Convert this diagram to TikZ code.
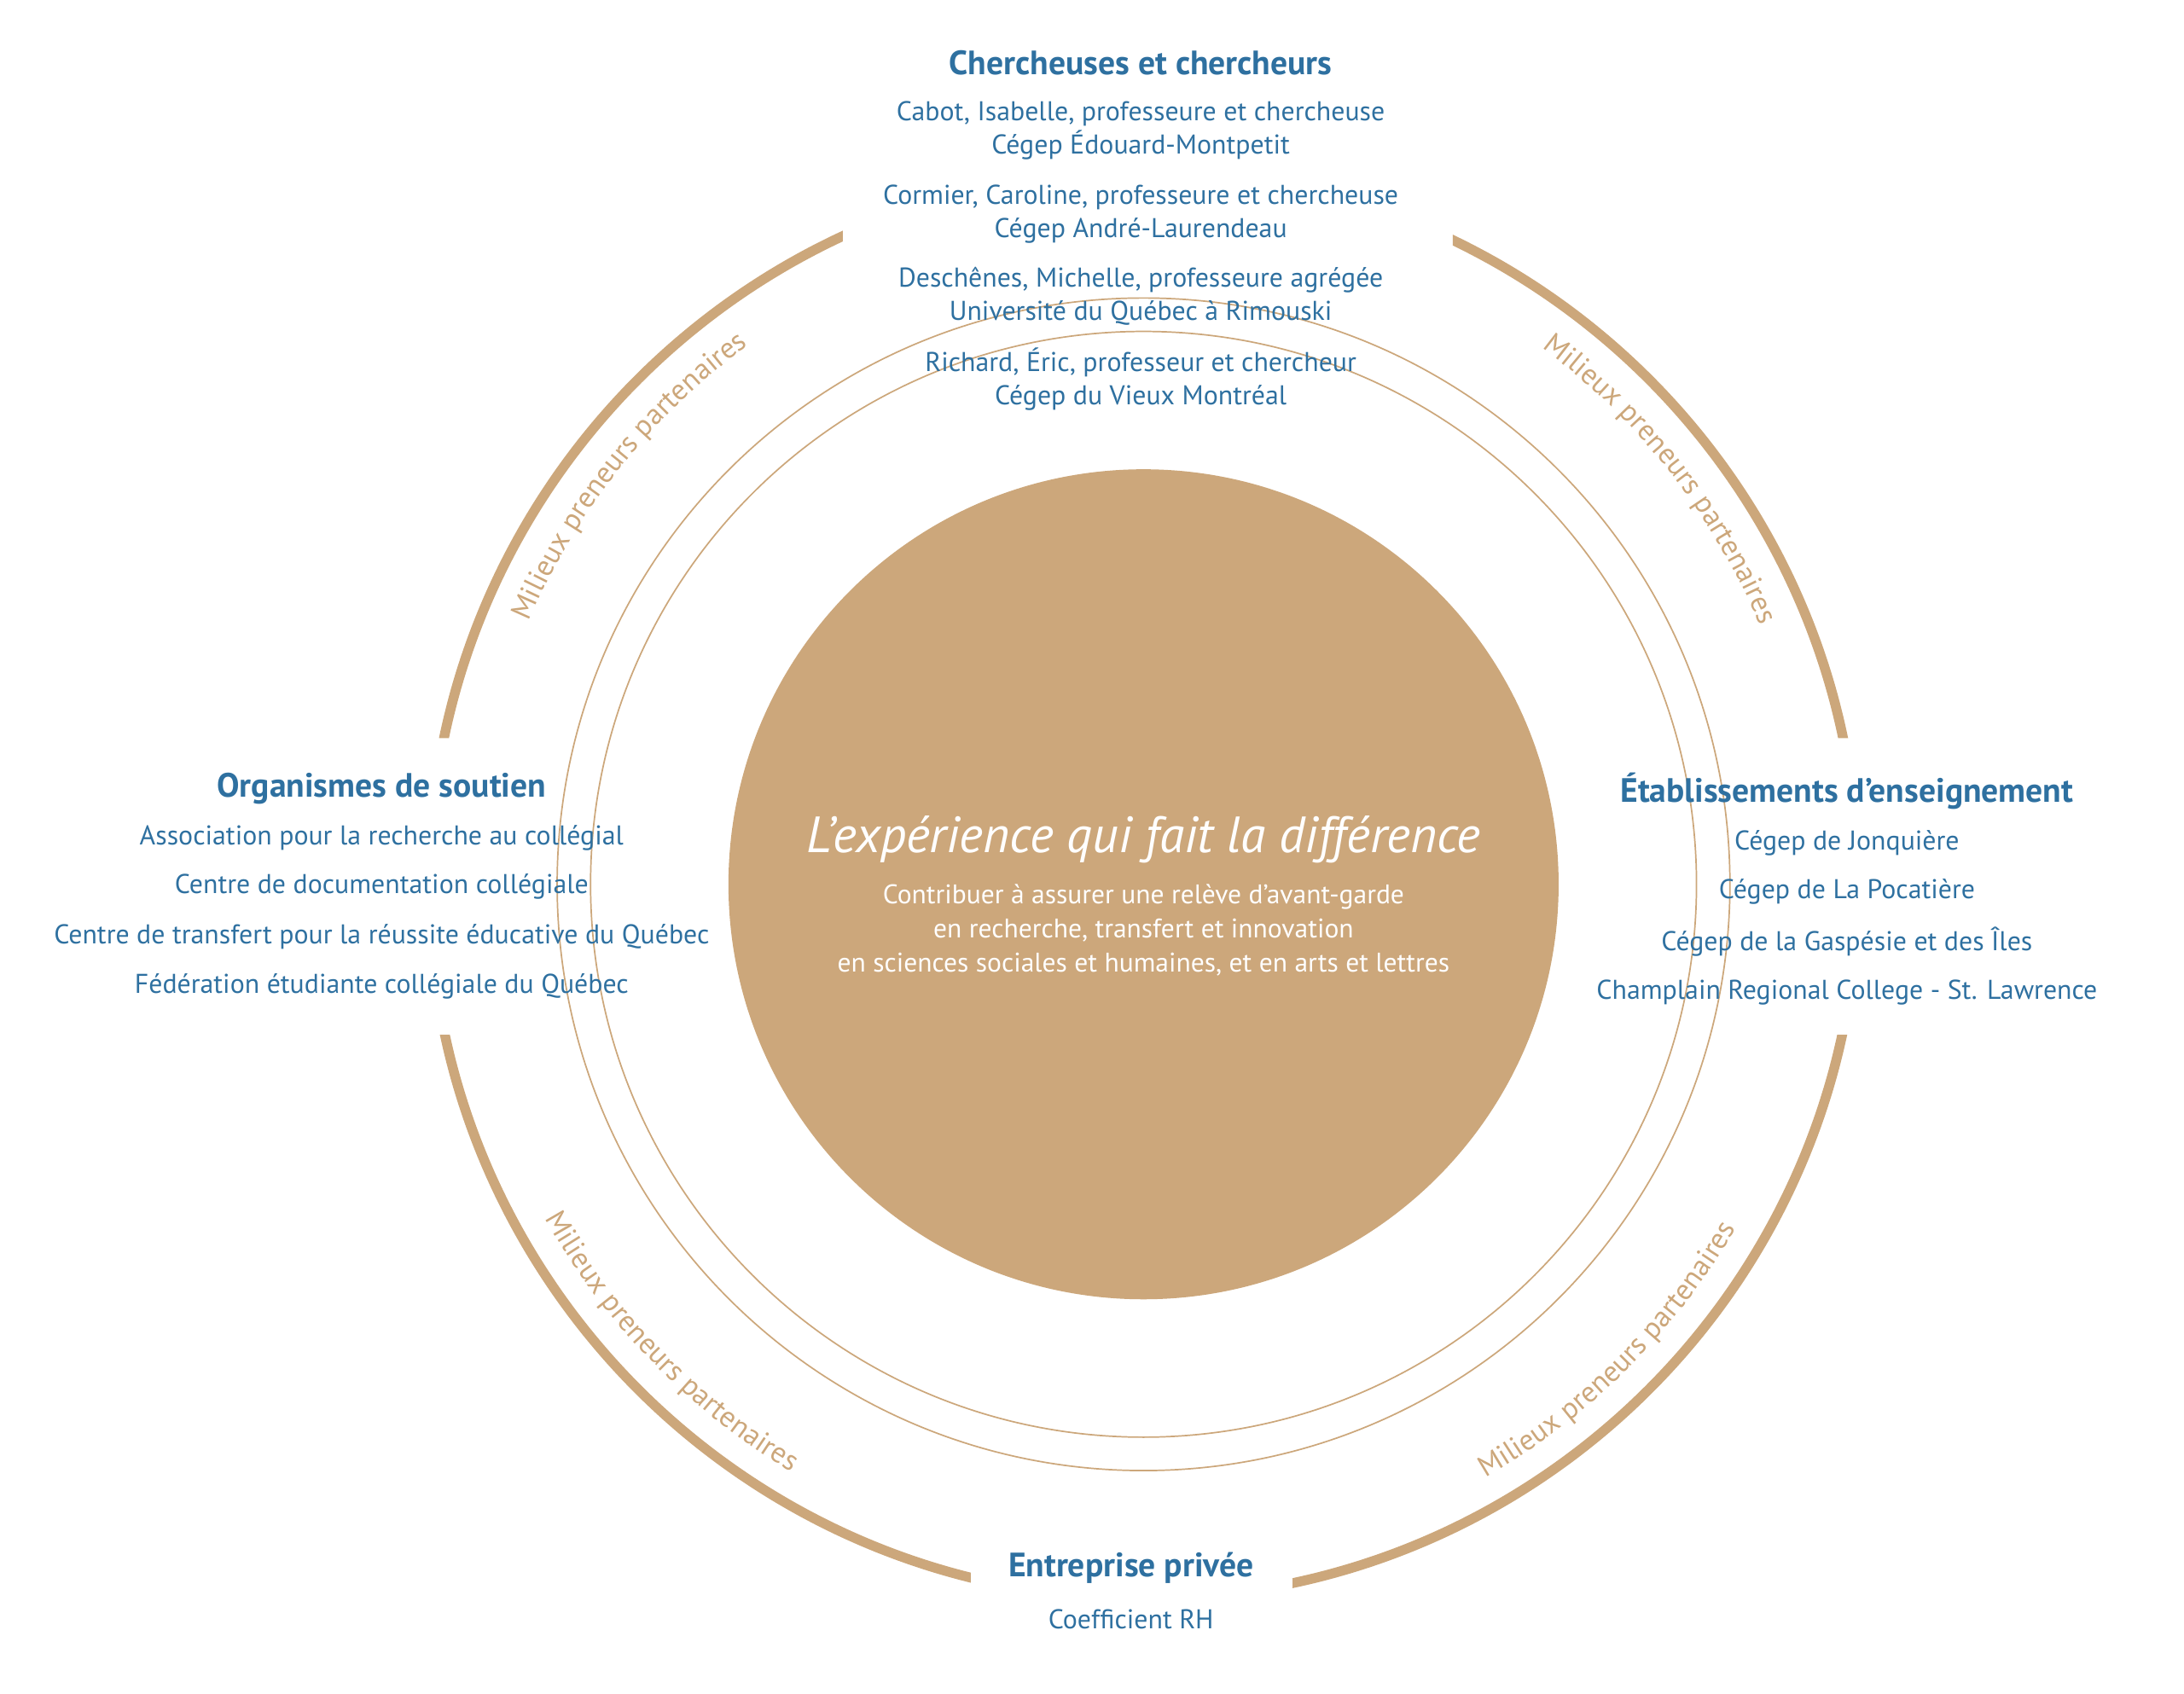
\documentclass[tikz,border=0pt]{standalone}
\usepackage{fontspec}
\setmainfont{PT Sans}
\usepackage{xcolor}
\usepackage{tikz}
\usetikzlibrary{decorations.text}
\definecolor{sable}{RGB}{204,167,123}
\definecolor{bleu}{RGB}{46,112,160}

\begin{document}
\begin{tikzpicture}[x=0.2mm,y=0.2mm]
	\tikzstyle{titre}=[text=bleu,font=\fontsize{13.8}{16}\selectfont\bfseries,inner sep=0pt]
	\tikzstyle{membre}=[text=bleu,font=\fontsize{11.1}{13.6}\selectfont,align=center,inner sep=0pt]
	\tikzstyle{milieu}=[decorate,decoration={text along path,text align=center,text color=sable,
		text={|\fontsize{11.9}{13}\selectfont|Milieux preneurs partenaires}}]
	\useasboundingbox (-821,-581) rectangle (747,635);
	% cercle central
	\node[circle,fill=sable,minimum size=119.2mm,inner sep=0pt](coeur) at (0,0) {};
	\draw[sable,line width=0.6pt] (coeur.center) circle (397);
	\draw[sable,line width=0.6pt] (coeur.center) circle (421);
	% grand anneau coupe
	\begin{scope}
		\clip (-900,105) rectangle (-216,700)
			(222,105) rectangle (900,700)
			(-900,-108) rectangle (-124,-700)
			(107,-108) rectangle (900,-700);
		\draw[sable,line width=4pt] (coeur.center) circle (513);
	\end{scope}
	\path[milieu] (168.2:480) arc[start angle=168.2,end angle=114.9,radius=480];
	\path[milieu] (64.4:480) arc[start angle=64.4,end angle=11.8,radius=480];
	\path[milieu] (192.2:492) arc[start angle=192.2,end angle=256,radius=492];
	\path[milieu] (282:492) arc[start angle=282,end angle=347.8,radius=492];
	% texte du centre
	\node[text=white,font=\fontsize{20.8}{24}\selectfont\itshape,inner sep=0pt](devise) at (0,32) {L’expérience qui fait la différence};
	\node[text=white,font=\fontsize{11}{13.9}\selectfont,align=center,inner sep=0pt](mission) at (0,-33)
		{Contribuer à assurer une relève d'avant-garde\\en recherche, transfert et innovation\\en sciences sociales et humaines, et en arts et lettres};
	% chercheuses et chercheurs
	\node[titre](c0) at (-2,590) {Chercheuses et chercheurs};
	\node[membre](c1) at (-2,541.5) {Cabot, Isabelle, professeure et chercheuse\\Cégep Édouard-Montpetit};
	\node[membre](c2) at (-2,481.5) {Cormier, Caroline, professeure et chercheuse\\Cégep André-Laurendeau};
	\node[membre](c3) at (-2,422) {Deschênes, Michelle, professeure agrégée\\Université du Québec à Rimouski};
	\node[membre](c4) at (-2,362.5) {Richard, Éric, professeur et chercheur\\Cégep du Vieux Montréal};
	% organismes de soutien
	\node[titre](o0) at (-547,68.5) {Organismes de soutien};
	\node[membre](o1) at (-547,33.5) {Association pour la recherche au collégial};
	\node[membre](o2) at (-547,-1.5) {Centre de documentation collégiale};
	\node[membre](o3) at (-547,-37.5) {Centre de transfert pour la réussite éducative du Québec};
	\node[membre](o4) at (-547,-73.5) {Fédération étudiante collégiale du Québec};
	% etablissements
	\node[titre](e0) at (505,67) {Établissements d’enseignement};
	\node[membre](e1) at (505,29.5) {Cégep de Jonquière};
	\node[membre](e2) at (505,-5.5) {Cégep de La Pocatière};
	\node[membre](e3) at (505,-41.5) {Cégep de la Gaspésie et des Îles};
	\node[membre](e4) at (505,-77.5) {Champlain Regional College - St. Lawrence};
	% entreprise privee
	\node[titre](p0) at (-9,-491) {Entreprise privée};
	\node[membre](p1) at (-9,-528) {Coefficient RH};
\end{tikzpicture}
\end{document}
